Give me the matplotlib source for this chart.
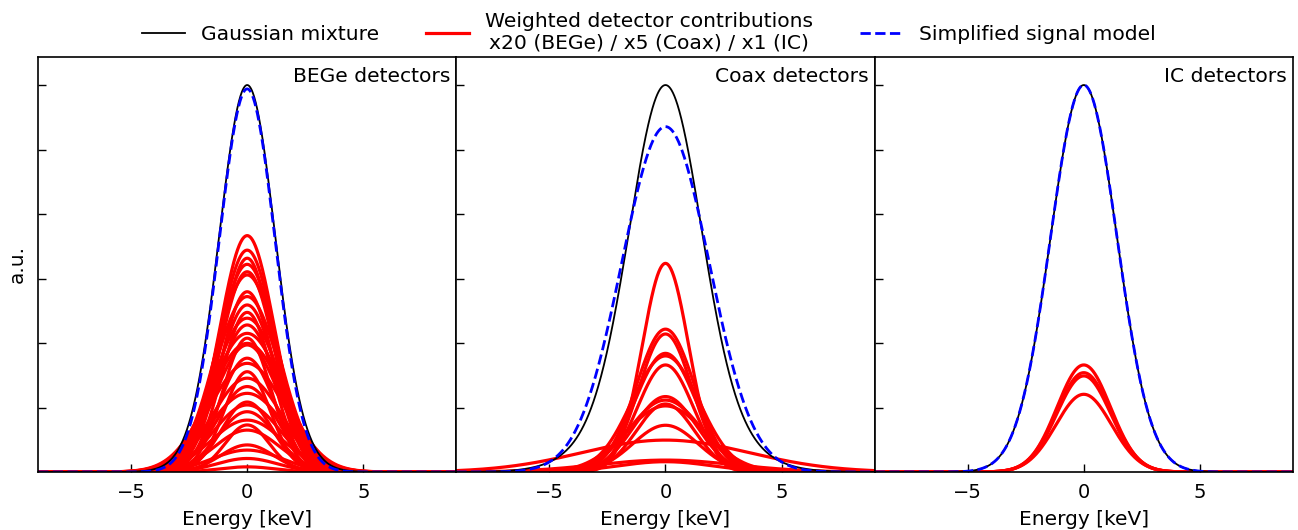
import numpy as np
import matplotlib
matplotlib.use("Agg")
import matplotlib.pyplot as plt

# ---- data ----
panel_titles = ["BEGe detectors", "Coax detectors", "IC detectors"]
x_ticks = [-5, 0, 5]

# weighted detector contributions: peak amplitude and width (keV)
bege_amp = [0.0733, 0.0688, 0.0663, 0.0644, 0.0621, 0.0611, 0.0559, 0.0544,
            0.0518, 0.0495, 0.0477, 0.0456, 0.0430, 0.0415, 0.0399, 0.0394,
            0.0353, 0.0337, 0.0311, 0.0291, 0.0265, 0.0244, 0.0217, 0.0208,
            0.0187, 0.0161, 0.0146, 0.0130, 0.0084, 0.0068, 0.0042, 0.0016]
bege_sig = [1.18, 1.22, 1.12, 1.28, 1.20, 1.35, 1.15, 1.38, 1.25, 1.10,
            1.45, 1.30, 1.55, 1.05, 1.60, 1.40, 1.20, 1.60, 1.00, 1.50,
            1.30, 1.60, 1.10, 1.45, 1.25, 1.55, 0.95, 1.40, 1.15, 1.50,
            1.30, 1.20]

coax_amp = [0.0647, 0.0443, 0.0428, 0.0368, 0.0360, 0.0332, 0.0234, 0.0223,
            0.0211, 0.0205, 0.0145, 0.0099, 0.0037, 0.0032]
coax_sig = [1.00, 1.25, 1.15, 1.30, 1.45, 1.20, 1.35, 1.55,
            1.25, 1.70, 1.40, 3.60, 3.00, 2.00]

ic_amp = [0.0332, 0.0308, 0.0298, 0.0241]
ic_sig = [1.15, 1.17, 1.16, 1.20]

# Gaussian mixture (two components per panel)
mix_amp1 = [0.090, 0.090, 0.120]
mix_sig1 = [1.15, 1.47, 1.43]
mix_amp2 = [0.030, 0.030, 0.000]
mix_sig2 = [1.45, 2.30, 1.43]

# simplified signal model
model_amp = [0.1188, 0.1071, 0.1200]
model_sig = [1.20, 1.88, 1.43]

red_amps = [bege_amp, coax_amp, ic_amp]
red_sigs = [bege_sig, coax_sig, ic_sig]


def gauss(x, a, s):
    return a * np.exp(-0.5 * (x / s) ** 2)


x = np.linspace(-9, 9, 1200)

fig, axes = plt.subplots(1, 3, figsize=(12.98, 5.30), dpi=100, sharey=True)
fig.subplots_adjust(left=0.0293, right=0.9961, top=0.8925, bottom=0.1094,
                    wspace=0)

for i, ax in enumerate(axes):
    for a, s in zip(red_amps[i], red_sigs[i]):
        ax.plot(x, gauss(x, a, s), color="red", lw=2.3)
    mix = gauss(x, mix_amp1[i], mix_sig1[i]) + gauss(x, mix_amp2[i], mix_sig2[i])
    ax.plot(x, mix, color="black", lw=1.3)
    ax.plot(x, gauss(x, model_amp[i], model_sig[i]), color="blue", lw=2.0,
            ls="--")
    ax.set_xlim(-9, 9)
    ax.set_ylim(0, 0.1287)
    ax.set_xticks(x_ticks)
    ax.set_yticks([0.02, 0.04, 0.06, 0.08, 0.10, 0.12])
    ax.tick_params(axis="both", direction="in", length=6, width=1,
                   labelsize=14, left=True, right=False, top=False,
                   labelleft=False, pad=8)
    ax.set_xlabel("Energy [keV]", fontsize=14.5, labelpad=6)
    ax.text(0.985, 0.975, panel_titles[i], transform=ax.transAxes,
            ha="right", va="top", fontsize=14.6)
    for sp in ax.spines.values():
        sp.set_linewidth(1.2)

axes[0].set_ylabel("a.u.", fontsize=14.5, labelpad=8)

handles = [
    plt.Line2D([], [], color="black", lw=1.3),
    plt.Line2D([], [], color="red", lw=2.3),
    plt.Line2D([], [], color="blue", lw=2.0, ls="--"),
]
labels = ["Gaussian mixture",
          "Weighted detector contributions\nx20 (BEGe) / x5 (Coax) / x1 (IC)",
          "Simplified signal model"]
leg = fig.legend(handles, labels, loc="upper center", bbox_to_anchor=(0.5, 1.012),
                 ncol=3, frameon=False, fontsize=14.6, handlelength=2.1,
                 columnspacing=2.32, handletextpad=0.8)
for t in leg.get_texts():
    t.set_multialignment("center")

fig.savefig("out.png", dpi=100)
